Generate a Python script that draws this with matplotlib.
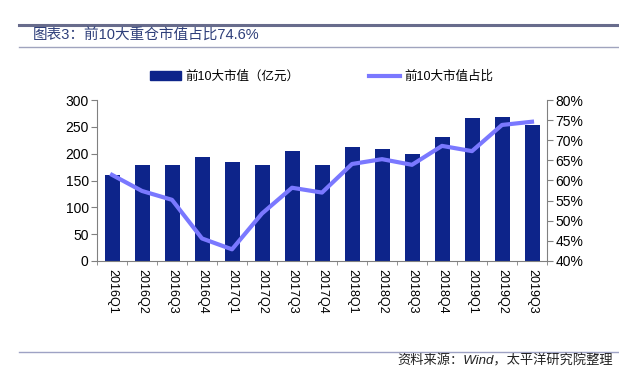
import matplotlib.pyplot as plt
import numpy as np
from matplotlib.ticker import FuncFormatter, FixedLocator
from matplotlib.lines import Line2D
from matplotlib.patches import Patch

plt.rcParams['font.family'] = ['Liberation Sans', 'Noto Sans CJK SC', 'DejaVu Sans']

# 数据
quarters = ['2016Q1', '2016Q2', '2016Q3', '2016Q4', '2017Q1', '2017Q2', '2017Q3', '2017Q4',
            '2018Q1', '2018Q2', '2018Q3', '2018Q4', '2019Q1', '2019Q2', '2019Q3']
top10_value = [160, 178, 179, 193, 184, 179, 205, 179, 212, 209, 199, 231, 267, 268, 254]
top10_share = [61.4, 57.4, 55.2, 45.6, 42.9, 51.8, 58.2, 57.0, 64.1, 65.3, 63.9, 68.6, 67.3, 73.8, 74.6]

bar_color = '#0D248A'
line_color = '#7A78FF'
axis_color = '#808080'

fig = plt.figure(figsize=(6.19, 3.68), dpi=100)

# 标题和分隔线
fig.add_artist(Line2D([0.03, 1.0], [1 - 25/368] * 2, color='#686C8C', lw=2.2))
fig.add_artist(Line2D([0.03, 1.0], [1 - 47/368] * 2, color='#A0A4BE', lw=1.0))
fig.text(0.053, 1 - 36/368, '图表3：前10大重仓市值占比74.6%', fontsize=10.5,
         color='#2E3F7A', va='center', ha='left')
fig.add_artist(Line2D([0.03, 1.0], [1 - 352/368] * 2, color='#9EA2C4', lw=1.0))
fig.text(0.99, 1 - 361/368, '资料来源：Wind，太平洋研究院整理', fontsize=9.5,
         style='italic', color='#222222', va='center', ha='right')

ax = fig.add_axes([97/619, 1 - 261/368, 450/619, 161/368])
x = np.arange(len(quarters))
ax.bar(x, top10_value, width=0.5, color=bar_color, zorder=2)
ax.set_xlim(-0.5, len(quarters) - 0.5)
ax.set_ylim(0, 300)
ax.set_yticks(np.arange(0, 301, 50))
ax.set_xticks(x)
ax.set_xticklabels(quarters, rotation=270, fontsize=9)
ax.tick_params(axis='x', length=0, pad=6)
ax.xaxis.set_minor_locator(FixedLocator(np.arange(-0.5, len(quarters), 1)))
ax.tick_params(axis='x', which='minor', length=3, color=axis_color, direction='out')
ax.tick_params(axis='y', labelsize=10, length=4, color=axis_color, direction='out', pad=2)
for s in ['top', 'right']:
    ax.spines[s].set_visible(False)
for s in ['left', 'bottom']:
    ax.spines[s].set_color(axis_color)

ax2 = ax.twinx()
ax2.plot(x, top10_share, color=line_color, lw=3, zorder=3)
ax2.set_ylim(40, 80)
ax2.set_yticks(np.arange(40, 81, 5))
ax2.yaxis.set_major_formatter(FuncFormatter(lambda v, p: f'{v:.0f}%'))
ax2.tick_params(axis='y', labelsize=10, length=4, color=axis_color, direction='out', pad=2)
for s in ['top', 'left', 'bottom']:
    ax2.spines[s].set_visible(False)
ax2.spines['right'].set_color(axis_color)

# 图例
handles = [Patch(color=bar_color), Line2D([], [], color=line_color, lw=3)]
labels = ['前10大市值（亿元）', '前10大市值占比']
fig.legend(handles, labels, loc='center left', bbox_to_anchor=(150/619, 1 - 77/368), ncol=2,
           frameon=False, fontsize=9, handlelength=2.5, handleheight=0.7,
           columnspacing=5.6, handletextpad=0.3, borderaxespad=0, borderpad=0)

fig.savefig('out.png', dpi=100)
